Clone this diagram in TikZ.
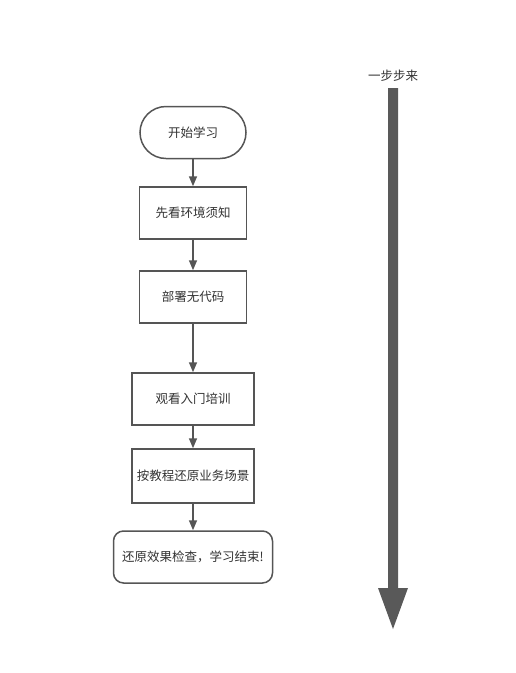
\documentclass[tikz,border=0pt]{standalone}
\usepackage{fontspec}
\setmainfont{Noto Sans CJK SC}
\usetikzlibrary{arrows.meta,shapes.misc}
\definecolor{edge}{HTML}{555555}
\definecolor{bigarrow}{HTML}{595959}
\begin{document}
\begin{tikzpicture}[x=1pt,y=-1pt,
  font=\fontsize{12.5}{15}\selectfont,
  every node/.style={text=black!80},
  boxstyle/.style={draw=edge,line width=1.5pt,fill=white,inner sep=0pt},
  conn/.style={draw=edge,line width=1.6pt,-{Triangle[length=10pt,width=8pt]}}]
\useasboundingbox (0,0) rectangle (516,673);
\node[boxstyle,rounded rectangle,minimum width=106pt,minimum height=52pt] (s) at (193,132.5) {开始学习};
\node[boxstyle,rectangle,minimum width=107pt,minimum height=52pt] (b2) at (193,213) {先看环境须知};
\node[boxstyle,rectangle,minimum width=107pt,minimum height=52pt] (b3) at (193,297) {部署无代码};
\node[boxstyle,rectangle,minimum width=122pt,minimum height=52pt] (b4) at (193,399) {观看入门培训};
\node[boxstyle,rectangle,minimum width=122pt,minimum height=54pt] (b5) at (193,476) {按教程还原业务场景};
\node[boxstyle,rectangle,rounded corners=10pt,minimum width=159pt,minimum height=52pt] (b6) at (193,557) {还原效果检查，学习结束!};
\draw[conn] (s.south) -- (b2.north);
\draw[conn] (b2.south) -- (b3.north);
\draw[conn] (b3.south) -- (b4.north);
\draw[conn] (b4.south) -- (b5.north);
\draw[conn] (b5.south) -- (b6.north);
\node (lbl) at (393,76) {一步步来};
\fill[bigarrow] (388,88) -- (398,88) -- (398,588) -- (408,588) -- (393,629) -- (378,588) -- (388,588) -- cycle;
\end{tikzpicture}
\end{document}
